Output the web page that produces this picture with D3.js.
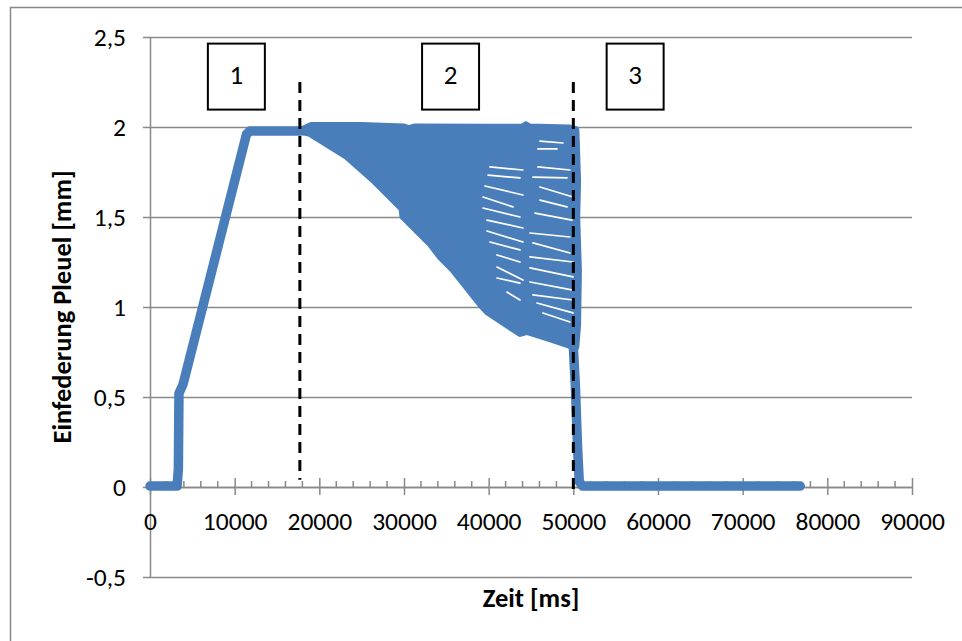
<!DOCTYPE html>
<html>
<head>
<meta charset="utf-8">
<script src="https://cdn.jsdelivr.net/npm/d3@7"></script>
<style>
  html, body { margin: 0; padding: 0; background: #fff; }
  svg { display: block; font-family: Carlito, Calibri, Lato, "Open Sans", sans-serif; }
</style>
</head>
<body>
<svg id="chart" width="962" height="641"></svg>
<script>
// Measured spring deflection of the connecting rod over time
const xTicks = [0, 10000, 20000, 30000, 40000, 50000, 60000, 70000, 80000, 90000];
const xTickLabels = ["0", "10000", "20000", "30000", "40000", "50000", "60000", "70000", "80000", "90000"];
const yTicks = [-0.5, 0, 0.5, 1, 1.5, 2, 2.5];
const yTickLabels = ["-0,5", "0", "0,5", "1", "1,5", "2", "2,5"];

// Trace: idle, loading ramp, hold, (cycling band drawn separately), release, idle
const traceTime = [0, 3200, 3350, 3420, 3900, 11400, 11800, 12600, 17700, 18100,
                   null,
                   50000, 50250, 50500, 50700, 51100, 76800];
const traceDefl = [0.005, 0.005, 0.1, 0.52, 0.57, 1.96, 1.978, 1.978, 1.978, 1.98,
                   null,
                   0.78, 0.55, 0.22, 0.03, 0.005, 0.005];

// Cycling phase: upper and lower envelope of the oscillation band
const bandTopTime = [18000, 19000, 25000, 30000, 30600, 31200, 40000, 44000, 44400, 44800, 49500, 50300, 50500, 50400, 50600, 50500];
const bandTopDefl = [1.985, 2.008, 2.008, 2.0, 1.99, 2.0, 1.998, 2.0, 2.012, 2.0, 1.995, 1.985, 1.7, 1.5, 1.2, 0.9];
const bandBotTime = [18000, 18900, 20430, 23270, 26340, 29760, 29880, 33070, 34250, 35780, 38970, 39800, 43700, 44520, 47600, 49960, 50300];
const bandBotDefl = [1.975, 1.964, 1.919, 1.836, 1.708, 1.547, 1.503, 1.353, 1.281, 1.208, 1.019, 0.975, 0.853, 0.864, 0.819, 0.781, 0.78];

// Gaps between successive load cycles inside the band: [t0, s0, t1, s1]
const cycleGaps = [
  [40150, 1.778, 44050, 1.761], [39920, 1.733, 43700, 1.717], [39560, 1.672, 44050, 1.622],
  [39330, 1.611, 42870, 1.556], [39330, 1.550, 43700, 1.500], [39800, 1.483, 44050, 1.439],
  [39800, 1.422, 44050, 1.361], [40150, 1.361, 43700, 1.317], [40980, 1.289, 43700, 1.250],
  [40980, 1.222, 44050, 1.150], [40980, 1.161, 43700, 1.133], [42160, 1.083, 43700, 1.039],
  [46060, 1.922, 48780, 1.911], [45820, 1.878, 48070, 1.878], [45820, 1.778, 49600, 1.761],
  [45230, 1.722, 49250, 1.717], [46060, 1.667, 49960, 1.611], [46060, 1.594, 49250, 1.556],
  [45470, 1.522, 49840, 1.483], [44880, 1.411, 49600, 1.389], [45230, 1.356, 49600, 1.300],
  [44880, 1.278, 49960, 1.250], [44880, 1.217, 49960, 1.167], [44880, 1.139, 49960, 1.094],
  [45230, 1.067, 49960, 1.039], [45700, 1.022, 49960, 0.967], [46410, 0.967, 49600, 0.917]
];

// Phase annotations
const phaseBoundaries = [17700, 50000];
const phaseLabels = ["1", "2", "3"];
const phaseLabelTime = [10200, 35500, 57300];

const svg = d3.select("#chart");
const blue = "#4a7ebb";
const gridGray = "#898989";

const x = d3.scaleLinear().domain([0, 90000]).range([150, 912]);
const y = d3.scaleLinear().domain([-0.5, 2.5]).range([577, 37]);

// Outer chart frame
svg.append("rect")
  .attr("x", 10.5).attr("y", 7.5).attr("width", 1000).attr("height", 700)
  .attr("fill", "none").attr("stroke", gridGray).attr("stroke-width", 1.5);

// Horizontal gridlines (extend left as outside tick marks)
const yAxis = d3.axisLeft(y).tickValues(yTicks)
  .tickSize(-(912 - 150)).tickSizeOuter(0)
  .tickFormat((d, i) => yTickLabels[i]);
const gy = svg.append("g").attr("transform", "translate(150,0)").call(yAxis);
gy.select(".domain").attr("stroke", gridGray).attr("stroke-width", 1.5);
gy.selectAll(".tick line").attr("stroke", gridGray).attr("stroke-width", 1.5).attr("x1", -7);
gy.selectAll(".tick text")
  .attr("x", -24).attr("dy", "0.35em")
  .attr("font-size", 25.5).attr("fill", "#000");

// Horizontal axis sits on y = 0
const gx = svg.append("g").attr("transform", `translate(0,${y(0)})`);
const xAxisMajor = d3.axisBottom(x).tickValues(xTicks).tickSize(8).tickSizeOuter(0)
  .tickFormat((d, i) => xTickLabels[i]);
gx.call(xAxisMajor);
gx.select(".domain").attr("stroke", gridGray).attr("stroke-width", 1.5);
gx.selectAll(".tick line").attr("stroke", gridGray).attr("stroke-width", 1.5).attr("y1", -9);
gx.selectAll(".tick text").attr("y", 43).attr("dy", 0)
  .attr("font-size", 25.5).attr("fill", "#000");
const minorTicks = d3.range(0, 90001, 2000).filter(v => v % 10000 !== 0);
gx.selectAll("line.minor").data(minorTicks).join("line")
  .attr("class", "minor")
  .attr("x1", d => x(d)).attr("x2", d => x(d))
  .attr("y1", -6).attr("y2", 0)
  .attr("stroke", gridGray).attr("stroke-width", 1.5);
svg.selectAll("g").attr("font-family", null);

// Cycling band
const bandPts = bandTopTime.map((t, i) => [t, bandTopDefl[i]])
  .concat(bandBotTime.map((t, i) => [t, bandBotDefl[i]]).reverse());
svg.append("path")
  .attr("d", d3.line().x(d => x(d[0])).y(d => y(d[1]))(bandPts) + "Z")
  .attr("fill", blue).attr("stroke", blue).attr("stroke-width", 7)
  .attr("stroke-linejoin", "round");

svg.append("g").selectAll("line").data(cycleGaps).join("line")
  .attr("x1", d => x(d[0])).attr("y1", d => y(d[1]))
  .attr("x2", d => x(d[2])).attr("y2", d => y(d[3]))
  .attr("stroke", "#fff").attr("stroke-width", 1.7).attr("stroke-linecap", "round");

// Main trace
const trace = traceTime.map((t, i) => [t, traceDefl[i]]);
svg.append("path")
  .attr("d", d3.line().defined(d => d[0] !== null).x(d => x(d[0])).y(d => y(d[1]))(trace))
  .attr("fill", "none").attr("stroke", blue).attr("stroke-width", 9.5)
  .attr("stroke-linejoin", "round").attr("stroke-linecap", "round");

// Phase boundaries
svg.append("g").selectAll("line").data(phaseBoundaries).join("line")
  .attr("x1", d => x(d)).attr("x2", d => x(d))
  .attr("y1", y(2.25)).attr("y2", (d, i) => i === 0 ? y(0.04) : y(-0.015))
  .attr("stroke", "#000").attr("stroke-width", 3).attr("stroke-dasharray", "11,7");

// Phase number boxes
const boxW = x(6730) - x(0);
const boxG = svg.append("g").selectAll("g").data(phaseLabels).join("g")
  .attr("transform", (d, i) => `translate(${x(phaseLabelTime[i])},${y(2.28)})`);
boxG.append("rect")
  .attr("x", -boxW / 2).attr("y", -33).attr("width", boxW).attr("height", 66)
  .attr("fill", "#fff").attr("stroke", "#000").attr("stroke-width", 2);
boxG.append("text")
  .attr("text-anchor", "middle").attr("y", 7)
  .attr("font-size", 27).attr("fill", "#000").text(d => d);

// Axis titles
svg.append("text")
  .attr("x", x(45000)).attr("y", 607)
  .attr("text-anchor", "middle").attr("font-weight", "bold").attr("font-size", 26.5)
  .text("Zeit [ms]");
svg.append("text")
  .attr("transform", `translate(71,${y(1)}) rotate(-90)`)
  .attr("text-anchor", "middle").attr("font-weight", "bold").attr("font-size", 26.5)
  .text("Einfederung Pleuel [mm]");
</script>
</body>
</html>
